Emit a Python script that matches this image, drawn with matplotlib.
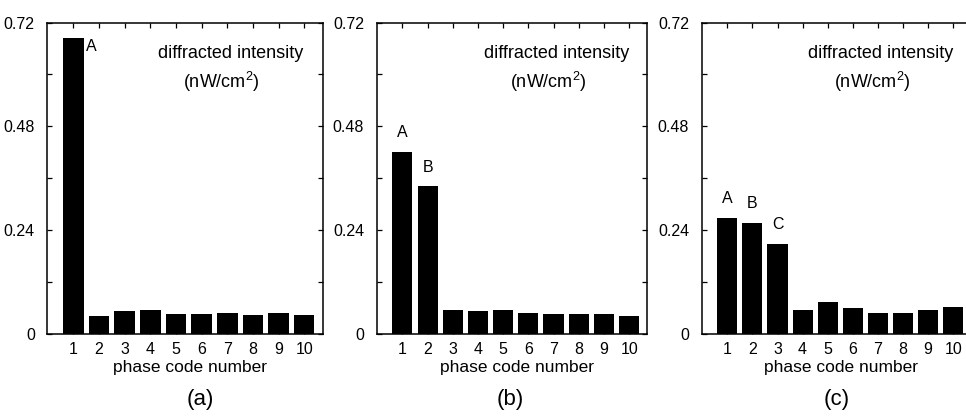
import numpy as np
import matplotlib
matplotlib.use('Agg')
import matplotlib.pyplot as plt
from matplotlib.ticker import MultipleLocator

plt.rcParams['font.family'] = ['Liberation Sans', 'DejaVu Sans']
plt.rcParams['mathtext.fontset'] = 'custom'
plt.rcParams['mathtext.rm'] = 'Liberation Sans'

codes = np.arange(1, 11)
tick_labels = [str(c) for c in codes]
intensity_a = [0.684, 0.042, 0.054, 0.056, 0.047, 0.047, 0.049, 0.044, 0.049, 0.044]
intensity_b = [0.421, 0.341, 0.056, 0.053, 0.056, 0.049, 0.046, 0.046, 0.046, 0.042]
intensity_c = [0.269, 0.257, 0.208, 0.055, 0.073, 0.061, 0.048, 0.048, 0.055, 0.062]
peak_labels_a = ['A']
peak_labels_b = ['A', 'B']
peak_labels_c = ['A', 'B', 'C']
panel_names = ['(a)', '(b)', '(c)']

W, H = 966, 420
fig = plt.figure(figsize=(W / 100, H / 100), dpi=100)

# axes boxes in pixels: left, width (bottom/top shared)
boxes = [(47.3, 275.4), (376.7, 270.6), (701.7, 269.6)]
bottom_px, top_px = 334.0, 22.5
name_x = [200, 510, 837]

panels = [(intensity_a, peak_labels_a), (intensity_b, peak_labels_b),
          (intensity_c, peak_labels_c)]

for i, ((vals, labs), (lpx, wpx)) in enumerate(zip(panels, boxes)):
    ax = fig.add_axes([lpx / W, (H - bottom_px) / H, wpx / W,
                       (bottom_px - top_px) / H])
    ax.bar(codes, vals, width=0.8, color='black', edgecolor='none')
    ax.set_xlim(-0.02, 10.72)
    ax.set_ylim(0, 0.72)
    ax.set_xticks(codes)
    ax.set_xticklabels(tick_labels)
    ax.set_yticks([0, 0.24, 0.48, 0.72])
    ax.set_yticklabels(['0', '0.24', '0.48', '0.72'])
    ax.yaxis.set_minor_locator(MultipleLocator(0.12))
    ax.tick_params(axis='both', which='both', direction='in', top=True,
                   right=True, length=3.5, width=0.9, labelsize=11.5)
    ax.tick_params(axis='x', pad=6)
    ax.tick_params(axis='y', pad=9)
    for s in ax.spines.values():
        s.set_linewidth(1.1)
    ax.set_xlabel('phase code number', fontsize=12.5)
    ax.xaxis.set_label_coords(0.518, -0.085)

    ax.text(0.665, 0.90, 'diffracted intensity', transform=ax.transAxes,
            ha='center', va='center', fontsize=13)
    ax.text(0.633, 0.81, r'(nW/cm$^\mathrm{2}$)', transform=ax.transAxes,
            ha='center', va='center', fontsize=13)

    for j, lab in enumerate(labs):
        if i == 0:
            ax.text(codes[j] + 0.5, vals[j] - 0.02, lab, ha='left',
                    va='center', fontsize=11.5)
        else:
            ax.text(codes[j], vals[j] + 0.045, lab, ha='center',
                    va='center', fontsize=11.5)

    fig.text(name_x[i] / W, 1 - 399 / H, panel_names[i], ha='center',
             va='center', fontsize=16)

fig.savefig('out.png', dpi=100)
